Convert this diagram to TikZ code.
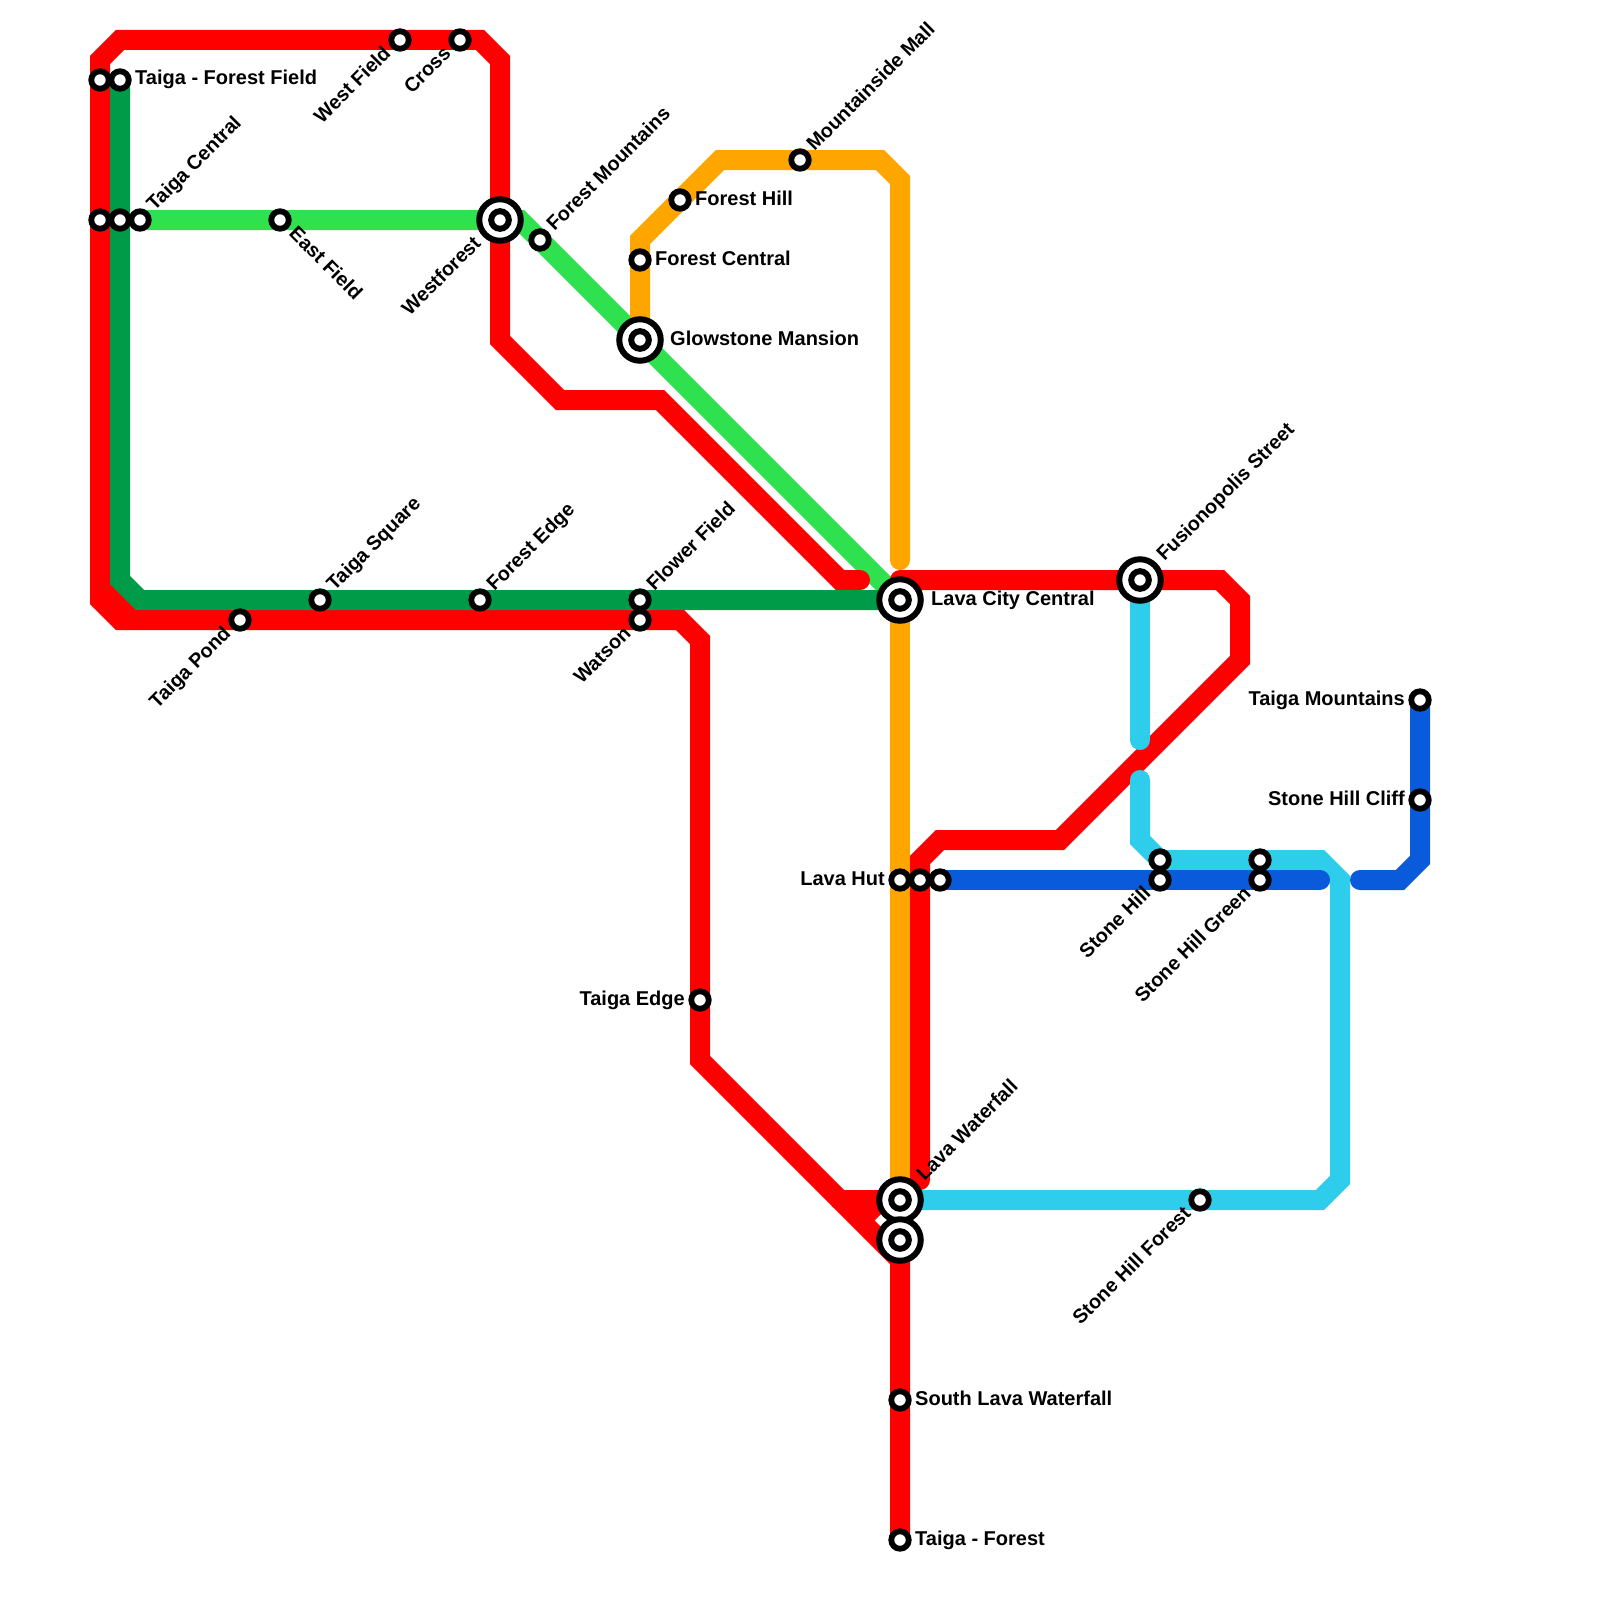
\documentclass[tikz,border=0pt]{standalone}
\usepackage{fontspec}
\setmainfont{Liberation Sans}
\usetikzlibrary{backgrounds}
\definecolor{metrored}{RGB}{255, 0, 0}
\definecolor{metrogreen}{RGB}{0, 155, 72}
\definecolor{metrolime}{RGB}{47, 225, 79}
\definecolor{metroorange}{RGB}{255, 165, 0}
\definecolor{metrocyan}{RGB}{46, 205, 235}
\definecolor{metroblue}{RGB}{10, 90, 220}

\begin{document}
\begin{tikzpicture}[
    x=1pt, y=-1pt,
    ln/.style={line width=20pt, line cap=round, line join=miter},
    stn/.style={circle, draw=black, fill=white, line width=5.8pt,
                minimum size=17.5pt, inner sep=0pt},
    hub/.style={circle, draw=black, fill=white, line width=6pt,
                minimum size=41.5pt, inner sep=0pt,
                path picture={\draw[line width=6pt]
                  (path picture bounding box.center) circle (8.8pt);}},
    lbl/.style={inner sep=0pt, font=\fontsize{20}{22}\selectfont\bfseries},
    lbr/.style={inner sep=0pt, font=\fontsize{19.8}{22}\selectfont\bfseries},
    lblE/.style={lbl, anchor=base west, xshift=#1, yshift=-5pt},
    lblW/.style={lbl, anchor=base east, xshift=-#1, yshift=-5pt},
    lblNE/.style={lbr, rotate=45, anchor=base west, xshift=#1, yshift=-4.6pt},
    lblSW/.style={lbr, rotate=45, anchor=base east, xshift=-#1, yshift=-4.6pt},
    lblSE/.style={lbr, rotate=-45, anchor=base west, xshift=#1, yshift=-4.6pt},
  ]
  \useasboundingbox (0,0) rectangle (1600,1600);

  % ── Stations ─────────────────────────────────────
  \node[stn] (tffa)  at (100,80)  {};
  \node[stn] (tff)   at (120,80)  {};
  \node[stn] (tca)   at (100,220) {};
  \node[stn] (tcb)   at (120,220) {};
  \node[stn] (tc)    at (140,220) {};
  \node[stn] (ef)    at (280,220) {};
  \node[stn] (wfd)   at (400,40)  {};
  \node[stn] (crs)   at (460,40)  {};
  \node[hub] (wft)   at (500,220) {};
  \node[stn] (fmt)   at (540,240) {};
  \node[stn] (fhl)   at (680,200) {};
  \node[stn] (fct)   at (640,260) {};
  \node[hub] (glw)   at (640,340) {};
  \node[stn] (mmall) at (800,160) {};
  \node[stn] (tsq)   at (320,600) {};
  \node[stn] (fed)   at (480,600) {};
  \node[stn] (ffd)   at (640,600) {};
  \node[stn] (wat)   at (640,620) {};
  \node[stn] (tpd)   at (240,620) {};
  \node[hub] (lcc)   at (900,600) {};
  \node[hub] (fus)   at (1140,580) {};
  \node[stn] (tmt)   at (1420,700) {};
  \node[stn] (shc)   at (1420,800) {};
  \node[stn] (lht)   at (900,880) {};
  \node[stn] (lhb)   at (920,880) {};
  \node[stn] (lhc)   at (940,880) {};
  \node[stn] (shla)  at (1160,860) {};
  \node[stn] (shl)   at (1160,880) {};
  \node[stn] (shga)  at (1260,860) {};
  \node[stn] (shg)   at (1260,880) {};
  \node[stn] (ted)   at (700,1000) {};
  \node[hub] (lwf)   at (900,1200) {};
  \node[hub] (lwb)   at (900,1240) {};
  \node[stn] (shf)   at (1200,1200) {};
  \node[stn] (slw)   at (900,1400) {};
  \node[stn] (tfo)   at (900,1540) {};

  % ── Labels ───────────────────────────────────────
  \node[lblE=15pt]  (tfflbl) at (tff)   {Taiga - Forest Field};
  \node[lblNE=16pt] (tclbl)  at (tc)    {Taiga Central};
  \node[lblSE=16pt] (eflbl)  at (ef)    {East Field};
  \node[lblSW=16pt] (wfdlbl) at (wfd)   {West Field};
  \node[lblSW=16pt] (crslbl) at (crs)   {Cross};
  \node[lblSW=30pt] (wftlbl) at (wft)   {Westforest};
  \node[lblNE=16pt] (fmtlbl) at (fmt)   {Forest Mountains};
  \node[lblE=15pt]  (fhllbl) at (fhl)   {Forest Hill};
  \node[lblE=15pt]  (fctlbl) at (fct)   {Forest Central};
  \node[lblE=30pt]  (glwlbl) at (glw)   {Glowstone Mansion};
  \node[lblNE=16pt] (mmlbl)  at (mmall) {Mountainside Mall};
  \node[lblNE=16pt] (tsqlbl) at (tsq)   {Taiga Square};
  \node[lblNE=16pt] (fedlbl) at (fed)   {Forest Edge};
  \node[lblNE=16pt] (ffdlbl) at (ffd)   {Flower Field};
  \node[lblSW=16pt] (watlbl) at (wat)   {Watson};
  \node[lblSW=16pt] (tpdlbl) at (tpd)   {Taiga Pond};
  \node[lblE=31pt]  (lcclbl) at (lcc)   {Lava City Central};
  \node[lblNE=30pt] (fuslbl) at (fus)   {Fusionopolis Street};
  \node[lblW=15pt]  (tmtlbl) at (tmt)   {Taiga Mountains};
  \node[lblW=15pt]  (shclbl) at (shc)   {Stone Hill Cliff};
  \node[lblW=15pt]  (lhtlbl) at (lht)   {Lava Hut};
  \node[lblSW=16pt] (shllbl) at (shl)   {Stone Hill};
  \node[lblSW=16pt] (shglbl) at (shg)   {Stone Hill Green};
  \node[lblW=15pt]  (tedlbl) at (ted)   {Taiga Edge};
  \node[lblNE=30pt] (lwflbl) at (lwf)   {Lava Waterfall};
  \node[lblSW=16pt] (shflbl) at (shf)   {Stone Hill Forest};
  \node[lblE=15pt]  (slwlbl) at (slw)   {South Lava Waterfall};
  \node[lblE=15pt]  (tfolbl) at (tfo)   {Taiga - Forest};

  % ── Bends ────────────────────────────────────────
  \coordinate (ra) at (860,580);  \coordinate (rb) at (840,580);
  \coordinate (rc) at (660,400);  \coordinate (rd) at (560,400);
  \coordinate (re) at (500,340);  \coordinate (rf) at (500,60);
  \coordinate (rg) at (480,40);   \coordinate (rh) at (120,40);
  \coordinate (ri) at (100,60);   \coordinate (rj) at (100,600);
  \coordinate (rk) at (120,620);  \coordinate (rl) at (680,620);
  \coordinate (rm) at (700,640);  \coordinate (rn) at (700,1060);
  \coordinate (ro) at (900,1260);
  \coordinate (rp) at (100,580);  \coordinate (rq) at (140,620);

  \coordinate (sa) at (920,1180); \coordinate (sb) at (920,860);
  \coordinate (sc) at (940,840);  \coordinate (sd) at (1060,840);
  \coordinate (se) at (1240,660); \coordinate (sf) at (1240,600);
  \coordinate (sg) at (1220,580); \coordinate (sh) at (900,580);

  \coordinate (ta) at (840,1200); \coordinate (tb) at (860,1200);
  \coordinate (td) at (877.5,1217.5);

  \coordinate (ga) at (120,580);  \coordinate (gb) at (140,600);
  \coordinate (la) at (520,220);

  \coordinate (oa) at (640,240);  \coordinate (ob) at (720,160);
  \coordinate (oc) at (880,160);  \coordinate (od) at (900,180);
  \coordinate (oe) at (900,560);

  \coordinate (ca) at (1140,740); \coordinate (cb) at (1140,780);
  \coordinate (cc) at (1140,840); \coordinate (cd) at (1160,860);
  \coordinate (ce) at (1320,860); \coordinate (cf) at (1340,880);
  \coordinate (cg) at (1340,1180); \coordinate (ch) at (1320,1200);

  \coordinate (ba) at (1320,880); \coordinate (bb) at (1360,880);
  \coordinate (bc) at (1400,880); \coordinate (bd) at (1420,860);

  % ── Lines ────────────────────────────────────────
  \begin{scope}[on background layer]
    \draw[ln, metrolime] (tc.center) -- (la) -- (lcc.center);

    \draw[ln, metrored] (ra) -- (rb) -- (rc) -- (rd) -- (re) -- (rf) -- (rg)
          -- (rh) -- (ri) -- (rj) -- (rk) -- (rl) -- (rm) -- (rn) -- (ro)
          -- (tfo.center);
    \draw[ln, metrored] (rp) -- (rq);
    \draw[ln, metrored] (sa) -- (sb) -- (sc) -- (sd) -- (se) -- (sf) -- (sg)
          -- (sh);
    \draw[ln, metrored] (ta) -- (lwf.center);
    \draw[ln, metrored, line cap=butt] (tb) -- (td);

    \draw[ln, metrogreen] (tff.center) -- (ga) -- (gb) -- (lcc.center);

    \draw[ln, metroorange] (glw.center) -- (oa) -- (ob) -- (oc) -- (od) -- (oe);
    \draw[ln, metroorange] (lcc.center) -- (lwf.center);

    \draw[ln, metrocyan] (fus.center) -- (ca);
    \draw[ln, metrocyan] (cb) -- (cc) -- (cd) -- (ce) -- (cf) -- (cg) -- (ch)
          -- (lwf.center);

    \draw[ln, metroblue] (lhc.center) -- (ba);
    \draw[ln, metroblue] (tmt.center) -- (bd) -- (bc) -- (bb);
  \end{scope}

\end{tikzpicture}
\end{document}
